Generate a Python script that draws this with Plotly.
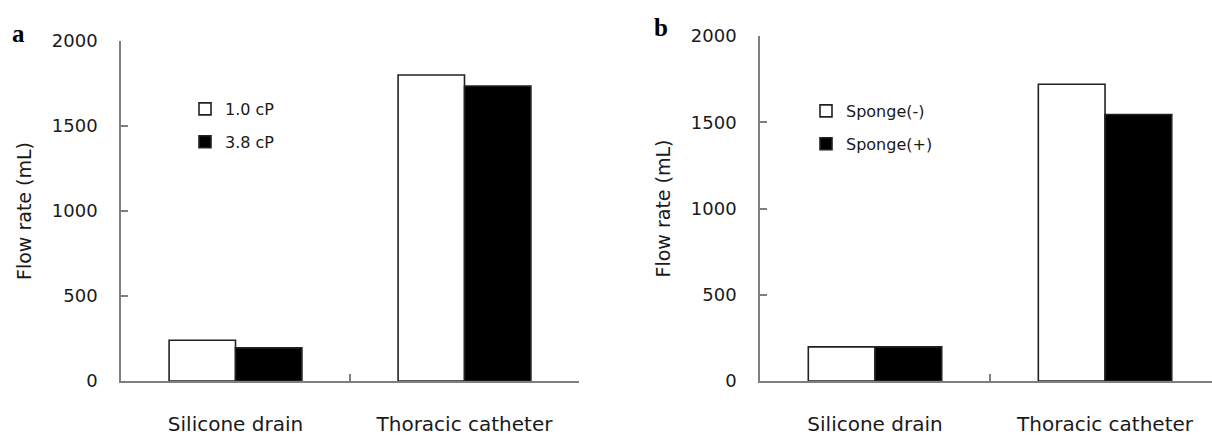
import plotly.graph_objects as go

W, H = 1212, 437

categories = ["Silicone drain", "Thoracic catheter"]

# Panel a
a_names = ["1.0 cP", "3.8 cP"]
a_low_visc = [240, 1800]
a_high_visc = [195, 1735]

# Panel b
b_names = ["Sponge(-)", "Sponge(+)"]
b_no_sponge = [198, 1720]
b_sponge = [198, 1545]

y_ticks = [0, 500, 1000, 1500, 2000]

FONT = "DejaVu Sans"
AXIS_COL = "#7f7f7f"
TXT = "#1a1a1a"

fig = go.Figure()

def px_x(p):
    return p / W

def px_y(p):
    return 1 - p / H

fig.add_trace(go.Bar(x=categories, y=a_low_visc, name=a_names[0], xaxis="x", yaxis="y",
                     marker=dict(color="white", line=dict(color="#222222", width=1.6)),
                     legend="legend", legendgroup="a1"))
fig.add_trace(go.Bar(x=categories, y=a_high_visc, name=a_names[1], xaxis="x", yaxis="y",
                     marker=dict(color="black", line=dict(color="#222222", width=1.6)),
                     legend="legend", legendgroup="a2"))
fig.add_trace(go.Bar(x=categories, y=b_no_sponge, name=b_names[0], xaxis="x2", yaxis="y2",
                     marker=dict(color="white", line=dict(color="#222222", width=1.6)),
                     legend="legend2", legendgroup="b1"))
fig.add_trace(go.Bar(x=categories, y=b_sponge, name=b_names[1], xaxis="x2", yaxis="y2",
                     marker=dict(color="black", line=dict(color="#222222", width=1.6)),
                     legend="legend2", legendgroup="b2"))

xcommon = dict(type="category", showline=True, linecolor=AXIS_COL, linewidth=1.5,
               ticks="inside", ticklen=7, tickcolor=AXIS_COL, tickwidth=1.5,
               tickson="boundaries", showgrid=False, zeroline=False,
               tickfont=dict(family=FONT, size=20, color=TXT),
               ticklabelstandoff=24, automargin=False, fixedrange=True)
ycommon = dict(range=[0, 2000], tickvals=y_ticks, showline=True, linecolor=AXIS_COL,
               linewidth=1.5, ticks="inside", ticklen=7, tickcolor=AXIS_COL, tickwidth=1.5,
               showgrid=False, zeroline=False,
               tickfont=dict(family=FONT, size=18, color=TXT),
               ticklabelstandoff=18, automargin=False,
               title=dict(text="Flow rate (mL)", font=dict(family=FONT, size=19, color=TXT)))

fig.update_layout(
    width=W, height=H,
    margin=dict(l=0, r=0, t=0, b=0),
    paper_bgcolor="white", plot_bgcolor="white",
    barmode="group", bargap=0.42, bargroupgap=0,
    xaxis=dict(xcommon, domain=[px_x(121), px_x(579)], range=[-0.5, 1.5], anchor="y"),
    yaxis=dict(ycommon, domain=[px_y(381), px_y(41)], anchor="x"),
    xaxis2=dict(xcommon, domain=[px_x(760), 1.0], range=[-0.5, 1.465], anchor="y2"),
    yaxis2=dict(ycommon, domain=[px_y(381), px_y(36)], anchor="x2"),
    legend=dict(x=px_x(185), y=px_y(92), xanchor="left", yanchor="top",
                font=dict(family=FONT, size=16, color=TXT), bgcolor="rgba(0,0,0,0)",
                tracegroupgap=9, traceorder="grouped"),
    legend2=dict(x=px_x(806), y=px_y(94), xanchor="left", yanchor="top",
                 font=dict(family=FONT, size=16, color=TXT), bgcolor="rgba(0,0,0,0)",
                 tracegroupgap=9, traceorder="grouped"),
    showlegend=True,
    annotations=[
        dict(text="<b>a</b>", x=px_x(10), y=px_y(18), xref="paper", yref="paper",
             xanchor="left", yanchor="top", showarrow=False,
             font=dict(family="Liberation Serif", size=25, color="black")),
        dict(text="<b>b</b>", x=px_x(652), y=px_y(12), xref="paper", yref="paper",
             xanchor="left", yanchor="top", showarrow=False,
             font=dict(family="Liberation Serif", size=25, color="black")),
    ],
)

fig.write_html("out.html")
